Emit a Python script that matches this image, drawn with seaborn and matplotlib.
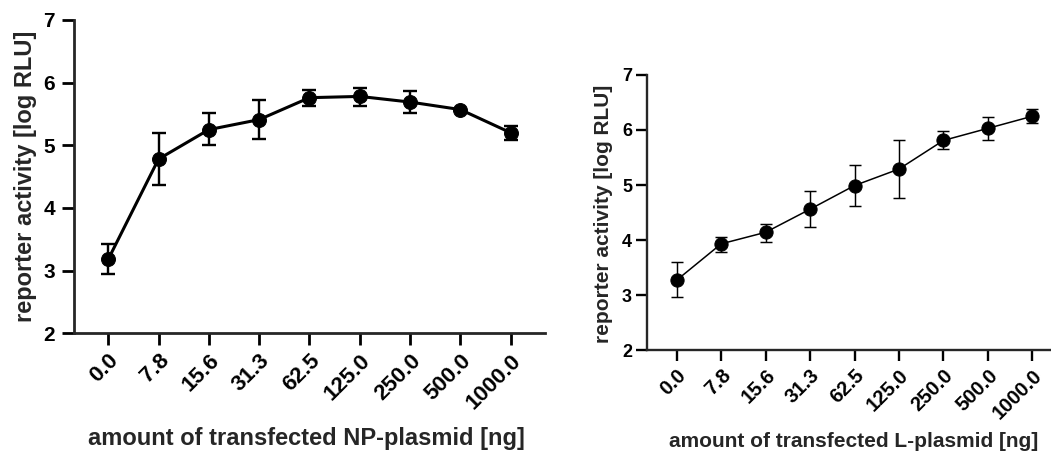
import pandas as pd
import matplotlib
matplotlib.use('Agg')
import matplotlib.pyplot as plt
import seaborn as sns

# dose labels (ng plasmid)
doses = ['0.0', '7.8', '15.6', '31.3', '62.5', '125.0', '250.0', '500.0', '1000.0']

# NP-plasmid titration: mean and error bar ends
np_mean = [3.18, 4.78, 5.25, 5.41, 5.76, 5.78, 5.69, 5.57, 5.20]
np_low = [2.94, 4.36, 5.00, 5.10, 5.63, 5.63, 5.52, 5.57, 5.09]
np_high = [3.42, 5.20, 5.51, 5.73, 5.88, 5.92, 5.86, 5.57, 5.31]

# L-plasmid titration
l_mean = [3.27, 3.93, 4.14, 4.56, 4.99, 5.29, 5.81, 6.03, 6.25]
l_low = [2.96, 3.79, 3.97, 4.24, 4.62, 4.76, 5.65, 5.81, 6.12]
l_high = [3.60, 4.06, 4.30, 4.89, 5.36, 5.81, 5.98, 6.24, 6.38]

sns.set_style('ticks')
plt.rcParams['font.family'] = ['Liberation Sans', 'DejaVu Sans']
plt.rcParams['font.weight'] = 'bold'

fig = plt.figure(figsize=(10.51, 4.57), dpi=100)
ax1 = fig.add_axes([0.0704, 0.2707, 0.4481, 0.6856])
ax2 = fig.add_axes([0.6153, 0.2341, 0.3847, 0.6018])


def panel(ax, mean, low, high, xlabel, lw, ms, spine_w, fs_xt, fs_yt, fs_label,
          xlims, cap, tlen, ypad, xlab_pos, ylab_pos):
    df = pd.DataFrame({'pos': range(len(doses)), 'mean': mean, 'low': low, 'high': high})
    ax.errorbar(df['pos'], df['mean'],
                yerr=[df['mean'] - df['low'], df['high'] - df['mean']],
                fmt='none', ecolor='black', elinewidth=lw * 0.6 + 0.4, capsize=cap,
                capthick=lw * 0.6 + 0.4, zorder=2)
    sns.lineplot(data=df, x='pos', y='mean', ax=ax, color='black', linewidth=lw,
                 marker='o', markersize=ms, markeredgecolor='black', zorder=3)
    ax.set_xlim(*xlims)
    ax.set_ylim(2, 7)
    ax.set_yticks([2, 3, 4, 5, 6, 7])
    ax.set_xticks(range(len(doses)))
    ax.set_xticklabels(doses, rotation=45, ha='right', rotation_mode='anchor',
                       fontsize=fs_xt, fontweight='bold')
    for t in ax.get_yticklabels():
        t.set_fontsize(fs_yt)
        t.set_fontweight('bold')
    sns.despine(ax=ax)
    for s in ['left', 'bottom']:
        ax.spines[s].set_linewidth(spine_w)
    ax.tick_params(width=spine_w, length=tlen, colors='black')
    ax.tick_params(axis='y', pad=ypad)
    ax.set_xlabel(xlabel, fontsize=fs_label, fontweight='bold', va='center')
    ax.set_ylabel('reporter activity [log RLU]', fontsize=fs_label, fontweight='bold',
                  va='center')
    ax.xaxis.set_label_coords(*xlab_pos)
    ax.yaxis.set_label_coords(*ylab_pos)


panel(ax1, np_mean, np_low, np_high, 'amount of transfected NP-plasmid [ng]',
      2.2, 10, 2.0, 16, 15, 17, (-0.68, 8.68), 5, 8.6, 5,
      (0.494, -0.337), (-0.104, 0.5))
panel(ax2, l_mean, l_low, l_high, 'amount of transfected L-plasmid [ng]',
      1.1, 9.5, 1.7, 14.5, 13, 15, (-0.675, 8.42), 4.5, 8, 2.5,
      (0.512, -0.331), (-0.106, 0.496))

fig.savefig('out.png', dpi=100)
